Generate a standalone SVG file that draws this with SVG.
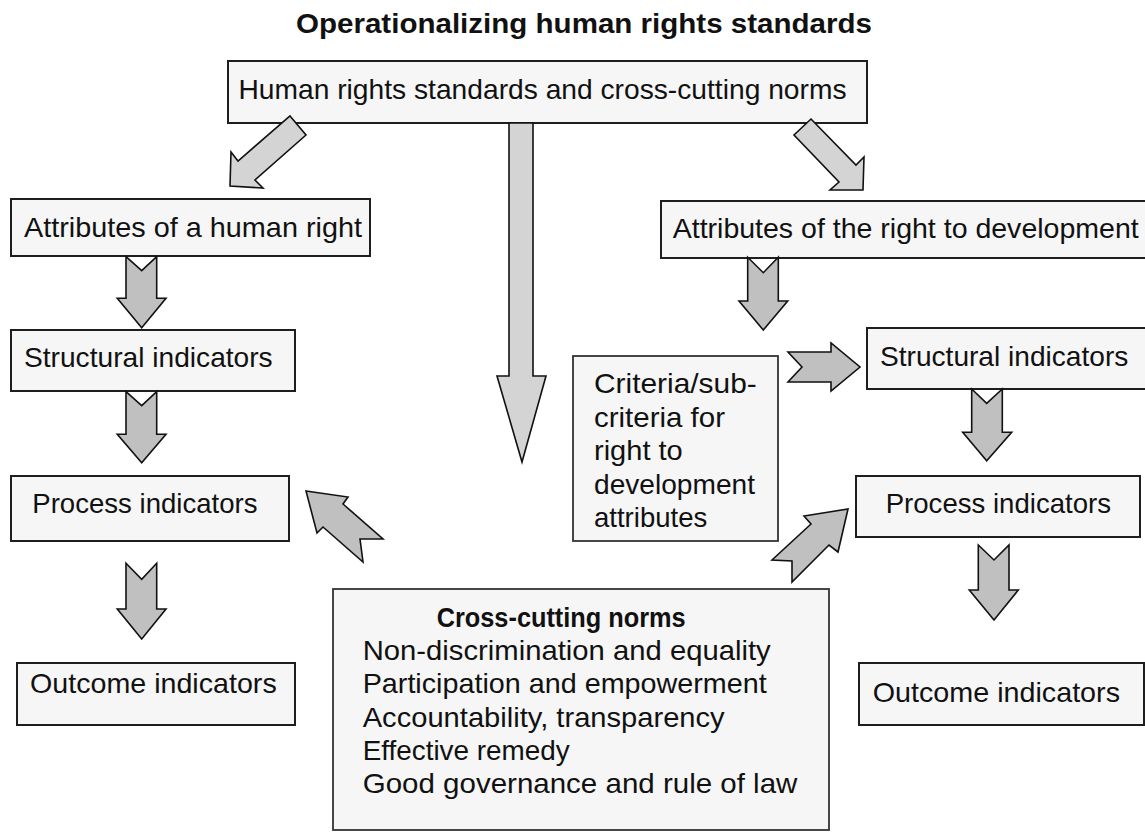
<svg xmlns="http://www.w3.org/2000/svg" width="1145" height="832" viewBox="0 0 1145 832">
<style>
text{font-family:"Liberation Sans",Arial,sans-serif;font-size:28px;fill:#111}
.title{font-weight:bold;font-size:27px}
.b{font-weight:bold}
.box{fill:#f6f6f6;stroke:#1e1e1e;stroke-width:2}
.box2{fill:#f6f6f6;stroke:#333;stroke-width:1.8}
.arL{fill:#d4d4d4;stroke:#111;stroke-width:1.6;stroke-linejoin:miter}
.arD{fill:#c0c0c0;stroke:#111;stroke-width:1.6;stroke-linejoin:miter}
</style>
<rect width="1145" height="832" fill="#ffffff"/>
<text class="title" x="296" y="32.5" textLength="576" lengthAdjust="spacingAndGlyphs">Operationalizing human rights standards</text>

<g id="node-standards">
<rect class="box" x="228" y="61" width="639" height="62"/>
<text x="238.5" y="99" textLength="608" lengthAdjust="spacingAndGlyphs">Human rights standards and cross-cutting norms</text>
</g>
<g id="node-attr-hr">
<rect class="box" x="11" y="199" width="359" height="57"/>
<text x="24" y="236.7" textLength="338" lengthAdjust="spacingAndGlyphs">Attributes of a human right</text>
</g>
<g id="node-attr-rtd">
<rect class="box" x="661" y="201" width="490" height="57"/>
<text x="672.7" y="238.3" textLength="466" lengthAdjust="spacingAndGlyphs">Attributes of the right to development</text>
</g>
<g id="node-struct-left">
<rect class="box" x="11" y="330" width="284" height="61"/>
<text x="24" y="367.3" textLength="248.7" lengthAdjust="spacingAndGlyphs">Structural indicators</text>
</g>
<g id="node-process-left">
<rect class="box" x="11" y="476" width="278" height="65"/>
<text x="32.3" y="512.7" textLength="225.3" lengthAdjust="spacingAndGlyphs">Process indicators</text>
</g>
<g id="node-outcome-left">
<rect class="box" x="17" y="663" width="278" height="62"/>
<text x="30" y="692.5" textLength="246.7" lengthAdjust="spacingAndGlyphs">Outcome indicators</text>
</g>
<g id="node-criteria">
<rect class="box2" x="573" y="356" width="205" height="185"/>
<text x="594" y="393.3" textLength="162.7" lengthAdjust="spacingAndGlyphs">Criteria/sub-</text>
<text x="594" y="426.8" textLength="131" lengthAdjust="spacingAndGlyphs">criteria for</text>
<text x="594" y="460.3" textLength="88.7" lengthAdjust="spacingAndGlyphs">right to</text>
<text x="594" y="493.8" textLength="161" lengthAdjust="spacingAndGlyphs">development</text>
<text x="594" y="527.3" textLength="113.3" lengthAdjust="spacingAndGlyphs">attributes</text>
</g>
<g id="node-struct-right">
<rect class="box" x="867" y="328" width="290" height="61"/>
<text x="880" y="365.7" textLength="248.3" lengthAdjust="spacingAndGlyphs">Structural indicators</text>
</g>
<g id="node-process-right">
<rect class="box" x="856" y="476" width="284" height="61"/>
<text x="885.7" y="513.3" textLength="225.3" lengthAdjust="spacingAndGlyphs">Process indicators</text>
</g>
<g id="node-outcome-right">
<rect class="box" x="859" y="663" width="285" height="62"/>
<text x="872.7" y="701.7" textLength="247.3" lengthAdjust="spacingAndGlyphs">Outcome indicators</text>
</g>
<g id="node-crosscutting">
<rect class="box2" x="333" y="589" width="496" height="241"/>
<text class="b" x="436.7" y="626.7" textLength="249" lengthAdjust="spacingAndGlyphs">Cross-cutting norms</text>
<text x="362.7" y="660" textLength="408" lengthAdjust="spacingAndGlyphs">Non-discrimination and equality</text>
<text x="362.7" y="693.3" textLength="404" lengthAdjust="spacingAndGlyphs">Participation and empowerment</text>
<text x="362.7" y="726.7" textLength="362" lengthAdjust="spacingAndGlyphs">Accountability, transparency</text>
<text x="362.7" y="760" textLength="207" lengthAdjust="spacingAndGlyphs">Effective remedy</text>
<text x="362.7" y="793.3" textLength="434.7" lengthAdjust="spacingAndGlyphs">Good governance and rule of law</text>
</g>

<g id="connectors">
<polygon class="arL" points="290,116 306,135 255,180 263,188 230,186 231,152 238,161"/>
<polygon class="arL" points="811,119 856,165 864,157 863,190 830,190 839,182 794,135"/>
<polygon class="arL" points="509,123 533,123 533,376 546,376 522,462 497,376 509,376"/>
<polygon class="arD" points="126,256.7 141.7,270.7 156.7,256.7 156.7,298.3 166,298.3 141.7,327.7 117.3,298.3 126,298.3"/>
<polygon class="arD" points="126,391.7 141.7,405.7 156.7,391.7 156.7,434.3 166,434.3 141.7,462.7 117.3,434.3 126,434.3"/>
<polygon class="arD" points="126,563.3 141.7,579.3 156.7,563.3 156.7,609 166,609 141.7,639 117.3,609 126,609"/>
<polygon class="arD" points="747.7,257.3 763.3,272.7 778.3,257.3 778.3,301 787.7,301 763.3,330 739,301 747.7,301"/>
<polygon class="arD" points="971.7,389 986.7,403.3 1002.3,389 1002.3,432.3 1011.7,432.3 986.7,460.7 962.7,432.3 971.7,432.3"/>
<polygon class="arD" points="978.3,545 994,560 1009,545 1009,590 1018.3,590 994,620 969.3,590 978.3,590"/>
<polygon class="arD" points="788,352 831,352 831,343 860,367 831,391 831,382 788,382 802,367"/>
<polygon class="arD" points="306,491 348,497 343,504 383,539 360,539 363,562 323,527 317,533"/>
<polygon class="arD" points="848,509 838,552 829,545 792,582 792,561 772,560 811,524 804,516"/>
</g>
</svg>
